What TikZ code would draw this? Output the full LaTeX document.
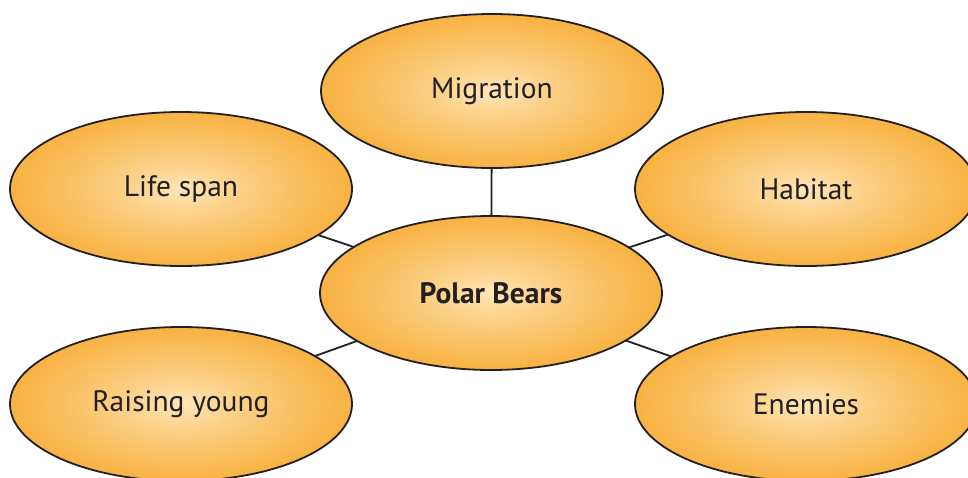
\documentclass[tikz,border=0pt]{standalone}
\usepackage{fontspec}
\setmainfont{PT Sans}
\usetikzlibrary{shapes.geometric,backgrounds}
\definecolor{cA}{HTML}{FEE6B8}
\definecolor{cB}{HTML}{FBCF84}
\definecolor{cC}{HTML}{F8B242}
\definecolor{ink}{HTML}{231F20}
\pgfdeclareradialshading{bubble}{\pgfpoint{0bp}{0bp}}{color(0bp)=(cA); color(9bp)=(cB); color(25bp)=(cC); color(50bp)=(cC)}
\begin{document}
\begin{tikzpicture}[x=1pt,y=-1pt,
  bub/.style={ellipse, draw=ink, line width=1.8pt, shading=bubble,
    minimum width=342pt, minimum height=154pt, inner sep=0pt,
    font=\fontsize{29.5}{34}\selectfont, text=ink},
  link/.style={draw=ink, line width=1.8pt}]
\useasboundingbox (0,0) rectangle (968,477);
\clip (0,0) rectangle (968,477);
\node[bub] (mig) at (492,91) {Migration};
\node[bub] (life) at (181,189) {Life span};
\node[bub] (hab) at (806,189) {Habitat};
\node[bub, font=\fontsize{29.5}{34}\selectfont\bfseries] (pb) at (491,293) {Polar Bears};
\node[bub] (raise) at (181,404) {Raising young};
\node[bub] (ene) at (806,404) {Enemies};
\begin{scope}[on background layer]
\draw[link] (mig.center) -- (pb.center);
\draw[link] (life.center) -- (pb.center);
\draw[link] (hab.center) -- (pb.center);
\draw[link] (raise.center) -- (pb.center);
\draw[link] (ene.center) -- (pb.center);
\end{scope}
\end{tikzpicture}
\end{document}
